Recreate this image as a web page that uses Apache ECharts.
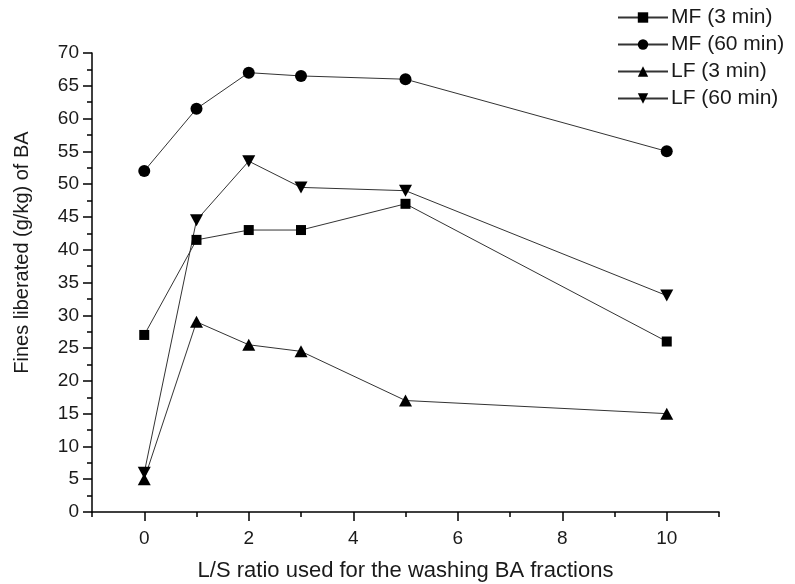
<!DOCTYPE html>
<html>
<head>
<meta charset="utf-8">
<script src="https://cdn.jsdelivr.net/npm/echarts@6/dist/echarts.min.js"></script>
<style>
  html, body { margin: 0; padding: 0; background: #fff; }
  #chart { width: 795px; height: 584px; }
</style>
</head>
<body>
<div id="chart"></div>
<script>
// L/S ratio values
var lsRatio = [0, 1, 2, 3, 5, 10]
var mf3 = [27, 41.5, 43, 43, 47, 26]
var mf60 = [52, 61.5, 67, 66.5, 66, 55]
var lf3 = [5, 29, 25.5, 24.5, 17, 15]
var lf60 = [6, 44.5, 53.5, 49.5, 49, 33]
var xMajorTicks = [0, 2, 4, 6, 8, 10]
var xMinorTicks = [-1, 1, 3, 5, 7, 9, 11]

var seriesNames = ['MF (3 min)', 'MF (60 min)', 'LF (3 min)', 'LF (60 min)']
var seriesData = [mf3, mf60, lf3, lf60]
var symbols = ['rect', 'circle', 'triangle', 'path://M0,0 L10,0 L5,9 Z']
var symbolSizes = [10, 12, [13, 12], [13, 12]]

var textColor = '#1a1a1a'
var lineColor = '#333'
var font = 'Liberation Sans'

var chart = echarts.init(document.getElementById('chart'))

var seriesList = []
seriesData.forEach(function (vals, i) {
  seriesList.push({
    name: seriesNames[i],
    type: 'line',
    data: lsRatio.map(function (x, j) { return [x, vals[j]] }),
    symbol: symbols[i],
    symbolSize: symbolSizes[i],
    showAllSymbol: true,
    lineStyle: { color: lineColor, width: 1 },
    itemStyle: { color: '#000' },
    emphasis: { disabled: true },
    z: 3
  })
})

chart.setOption({
  animation: false,
  backgroundColor: '#fff',
  textStyle: { fontFamily: font },
  grid: {
    left: 92,
    right: 76,
    top: 53,
    bottom: 72,
    containLabel: false,
    outerBoundsMode: 'none'
  },
  legend: {
    orient: 'vertical',
    left: 612,
    top: 2,
    itemWidth: 50,
    itemHeight: 13,
    itemGap: 6,
    data: seriesNames,
    textStyle: { fontSize: 21, color: textColor, fontFamily: font, padding: [0, 0, 0, -2] }
  },
  xAxis: [
    {
      type: 'value',
      min: -1,
      max: 11,
      interval: 1,
      name: 'L/S ratio used for the washing BA fractions',
      nameLocation: 'middle',
      nameGap: 48,
      nameTextStyle: { fontSize: 22, color: textColor, fontFamily: font },
      axisLine: { show: true, lineStyle: { color: '#000', width: 1.5 } },
      axisTick: { show: true, customValues: xMajorTicks, length: 9, lineStyle: { color: '#000', width: 1.5 } },
      axisLabel: { customValues: xMajorTicks, fontSize: 19, color: textColor, margin: 17, fontFamily: font },
      splitLine: { show: false }
    },
    {
      type: 'value',
      min: -1,
      max: 11,
      interval: 1,
      position: 'bottom',
      axisLine: { show: false },
      axisTick: { show: true, customValues: xMinorTicks, length: 5, lineStyle: { color: '#000', width: 1.5 } },
      axisLabel: { show: false },
      splitLine: { show: false }
    }
  ],
  yAxis: {
    type: 'value',
    min: 0,
    max: 70,
    interval: 5,
    name: 'Fines liberated (g/kg) of BA',
    nameLocation: 'middle',
    nameGap: 60,
    nameTextStyle: { fontSize: 20, color: textColor, fontFamily: font, padding: [0, 0, 0, 60] },
    axisLine: { show: true, onZero: false, lineStyle: { color: '#000', width: 1.5 } },
    axisTick: { show: true, length: 9, lineStyle: { color: '#000', width: 1.5 } },
    minorTick: { show: true, splitNumber: 2, length: 5, lineStyle: { color: '#000', width: 1.5 } },
    axisLabel: { fontSize: 19, color: textColor, margin: 13, fontFamily: font },
    splitLine: { show: false }
  },
  series: seriesList
})
</script>
</body>
</html>
